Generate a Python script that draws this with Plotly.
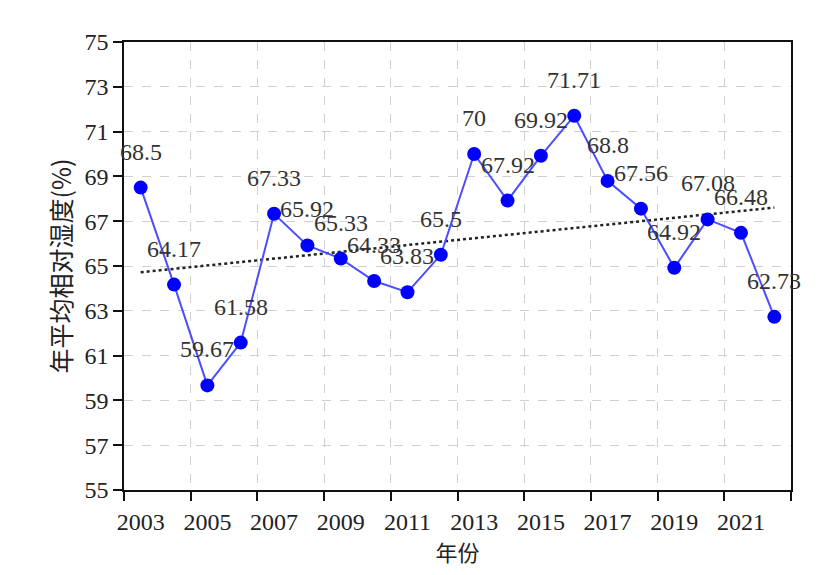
import numpy as np
import plotly.graph_objects as go

# Annual mean relative humidity, 2003-2022
years = list(range(2003, 2023))
humidity = [68.5, 64.17, 59.67, 61.58, 67.33, 65.92, 65.33, 64.33, 63.83, 65.5,
            70, 67.92, 69.92, 71.71, 68.8, 67.56, 64.92, 67.08, 66.48, 62.73]
label_years = list(range(2003, 2022, 2))
y_ticks = list(range(55, 76, 2))

SERIF = "Liberation Serif, Times New Roman, serif"
CJK = "Noto Sans CJK SC, sans-serif"

# Linear trend fitted to the series
slope, intercept = np.polyfit(years, humidity, 1)
trend = [slope * y + intercept for y in years]

fig = go.Figure()
fig.add_trace(go.Scatter(
    x=years, y=trend, mode="lines",
    line=dict(color="#222222", width=2.5, dash="dot"),
    hoverinfo="skip", showlegend=False,
))
fig.add_trace(go.Scatter(
    x=years, y=humidity, mode="lines+markers",
    line=dict(color="#4d4dff", width=2),
    marker=dict(color="#0000ff", size=14),
    showlegend=False,
))

for yr, v in zip(years, humidity):
    fig.add_annotation(
        x=yr, y=v, text=f"{v:g}", showarrow=False, yshift=36,
        font=dict(family=SERIF, size=24, color="#333333"),
    )

# Category-style boundaries: ticks and grid sit between years
boundaries = [y - 0.5 for y in range(2003, 2024, 2)]

fig.update_xaxes(
    range=[2002.5, 2022.5],
    tickmode="array", tickvals=label_years, ticktext=[str(y) for y in label_years],
    ticks="", showgrid=False, ticklabelstandoff=9,
    minor=dict(tickvals=boundaries, ticks="outside", ticklen=9, tickwidth=1.5,
               tickcolor="#111111", showgrid=True, gridcolor="#d0d0d0",
               griddash="dash", gridwidth=1),
    showline=True, linecolor="#111111", linewidth=1.5, mirror=True,
    tickfont=dict(family=SERIF, size=24, color="#222222"),
    title=dict(text="年份", font=dict(family=CJK, size=22, color="#222222"), standoff=8),
    zeroline=False,
)
fig.update_yaxes(
    range=[55, 75], tickmode="array", tickvals=y_ticks,
    ticks="outside", ticklen=9, tickwidth=1.5, tickcolor="#111111",
    showgrid=True, gridcolor="#d0d0d0", griddash="dash", gridwidth=1,
    showline=True, linecolor="#111111", linewidth=1.5, mirror=True,
    tickfont=dict(family=SERIF, size=24, color="#222222"),
    title=dict(text="年平均相对湿度(%)", font=dict(family=CJK, size=25, color="#222222"), standoff=6),
    zeroline=False,
)

fig.update_layout(
    width=823, height=575,
    margin=dict(l=124, r=32, t=42, b=85),
    paper_bgcolor="white", plot_bgcolor="white",
)

fig.write_html("out.html")
